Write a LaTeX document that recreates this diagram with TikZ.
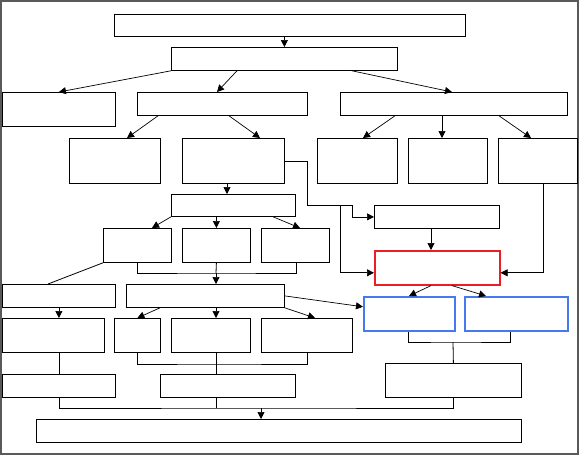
\documentclass[tikz,border=0pt]{standalone}
\usepackage{tikz}
\usetikzlibrary{arrows.meta,positioning,calc}
\definecolor{corered}{RGB}{235,30,35}
\definecolor{outblue}{RGB}{70,120,240}
\definecolor{framegray}{RGB}{90,90,90}
\tikzset{
  box/.style 2 args ={draw,line width=0.8pt,anchor=north west,inner sep=0pt,minimum width=#1,minimum height=#2},
  redbox/.style     ={draw=corered,line width=1.6pt},
  bluebox/.style    ={draw=outblue,line width=1.6pt},
  arrow/.style      ={-{Triangle[length=7pt,width=7pt]},line width=0.7pt},
  wire/.style       ={line width=0.8pt}
}
\begin{document}
\begin{tikzpicture}[x=1pt,y=-1pt]
    \useasboundingbox (0,0) rectangle (579,455);
    \draw[framegray,line width=2pt] (1,1) rectangle (578,454);
    \node[box={351pt}{22pt}] (head) at (114,14)  {};
    \node[box={226pt}{23pt}] (lead) at (171,47)  {};
    \node[box={113pt}{34pt}] (lbox) at (2,92)    {};
    \node[box={170pt}{23pt}] (mbox) at (137,92)  {};
    \node[box={227pt}{23pt}] (rbox) at (340,92)  {};
    \node[box={91pt}{45pt}]  (a1)   at (69,138)  {};
    \node[box={102pt}{45pt}] (a2)   at (182,138) {};
    \node[box={80pt}{45pt}]  (a3)   at (317,138) {};
    \node[box={79pt}{45pt}]  (a4)   at (408,138) {};
    \node[box={79pt}{45pt}]  (a5)   at (498,138) {};
    \node[box={124pt}{22pt}] (hub)  at (171,194) {};
    \node[box={125pt}{23pt}] (fbox) at (374,205) {};
    \node[box={68pt}{34pt}]  (h1)   at (103,228) {};
    \node[box={68pt}{34pt}]  (h2)   at (182,228) {};
    \node[box={68pt}{34pt}]  (h3)   at (261,228) {};
    \node[box={125pt}{34pt},redbox]  (core) at (374,250) {};
    \node[box={113pt}{23pt}] (l2)   at (2,284)   {};
    \node[box={158pt}{23pt}] (wide) at (126,284) {};
    \node[box={91pt}{34pt},bluebox]  (outa) at (363,296) {};
    \node[box={103pt}{34pt},bluebox] (outb) at (464,296) {};
    \node[box={102pt}{34pt}] (c1)   at (2,318)   {};
    \node[box={46pt}{34pt}]  (c2)   at (114,318) {};
    \node[box={79pt}{34pt}]  (c3)   at (171,318) {};
    \node[box={91pt}{34pt}]  (c4)   at (261,318) {};
    \node[box={136pt}{34pt}] (side) at (385,363) {};
    \node[box={113pt}{23pt}] (k1)   at (2,374)   {};
    \node[box={135pt}{23pt}] (k2)   at (160,374) {};
    \node[box={485pt}{23pt}] (base) at (36,419)  {};
    \coordinate (bendA) at (307,205);
    \coordinate (bendB) at ([xshift=-22pt]fbox.west);
    \coordinate (bendC) at (340,205);
    \coordinate (bendE) at ([xshift=45pt]a5.south west);
    \coordinate (ob)    at (453,342);
    \coordinate (hb)    at (216,273);
    \coordinate (cb)    at (216,364);
    \coordinate (c3s)   at ([xshift=45pt]c3.south west);
    \coordinate (kb)    at (261,408);
    \coordinate (k2s)   at ([xshift=56pt]k2.south west);
    \draw[arrow] (head.south -| lead.north) -- (lead.north);
    \draw[arrow] (lead.south west) -- (lbox.north);
    \draw[arrow] ([xshift=66pt]lead.south west) -- ([xshift=80pt]mbox.north west);
    \draw[arrow] ([xshift=181pt]lead.south west) -- ([xshift=112pt]rbox.north west);
    \draw[arrow] ([xshift=21pt]mbox.south west) -- ([xshift=58pt]a1.north west);
    \draw[arrow] ([xshift=92pt]mbox.south west) -- ([xshift=78pt]a2.north west);
    \draw[arrow] ([xshift=55pt]rbox.south west) -- ([xshift=46pt]a3.north west);
    \draw[arrow] ([xshift=102pt]rbox.south west) -- ([xshift=34pt]a4.north west);
    \draw[arrow] ([xshift=159pt]rbox.south west) -- ([xshift=33pt]a5.north west);
    \draw[arrow] ([xshift=45pt]a2.south west) -- ([xshift=56pt]hub.north west);
    \draw[arrow] (a2.east) -| (bendA) -| (bendB) -- (fbox.west);
    \draw[arrow] (bendC) |- ([yshift=-5pt]core.west);
    \draw[arrow] ([xshift=57pt]fbox.south west) -- ([xshift=57pt]core.north west);
    \draw[arrow] (bendE) |- ([yshift=-5pt]core.east);
    \draw[arrow] ([xshift=57pt]core.south west) -- ([xshift=46pt]outa.north west);
    \draw[arrow] ([xshift=78pt]core.south west) -- ([xshift=22pt]outb.north west);
    \draw[wire]  ([xshift=45pt]outa.south west) |- (ob) -| ([xshift=46pt]outb.south west);
    \draw[wire]  (ob) -- (side.north);
    \draw[arrow] (hub.south west) -- ([xshift=49pt]h1.north west);
    \draw[arrow] (hub.south -| h2.north) -- (h2.north);
    \draw[arrow] ([xshift=102pt]hub.south west) -- ([xshift=39pt]h3.north west);
    \draw[wire]  ([xshift=34pt]h1.south west) |- (hb) -| ([xshift=35pt]h3.south west);
    \draw[wire]  (h2.south) -- (hb);
    \draw[arrow] (hb) -- (hb |- wide.north);
    \draw[wire]  (h1.south west) -- ([xshift=46pt]l2.north west);
    \draw[arrow] (l2.south) -- (l2.south |- c1.north);
    \draw[arrow] ([xshift=34pt]wide.south west) -- (c2.north);
    \draw[arrow] ([xshift=90pt]wide.south west) -- ([xshift=45pt]c3.north west);
    \draw[arrow] (wide.south east) -- ([xshift=54pt]c4.north west);
    \draw[arrow] (wide.east) -- ([yshift=7pt]outa.west);
    \draw[wire]  (k1.north |- c1.south) -- (k1.north);
    \draw[wire]  (c2.south) |- (cb) -| ([xshift=46pt]c4.south west);
    \draw[wire]  (c3s) -- (c3s |- k2.north);
    \draw[wire]  (k1.south) |- (kb) -| (side.south);
    \draw[wire]  (k2s) -- (k2s |- kb);
    \draw[arrow] (kb) -- (kb |- base.north);
\end{tikzpicture}
\end{document}
